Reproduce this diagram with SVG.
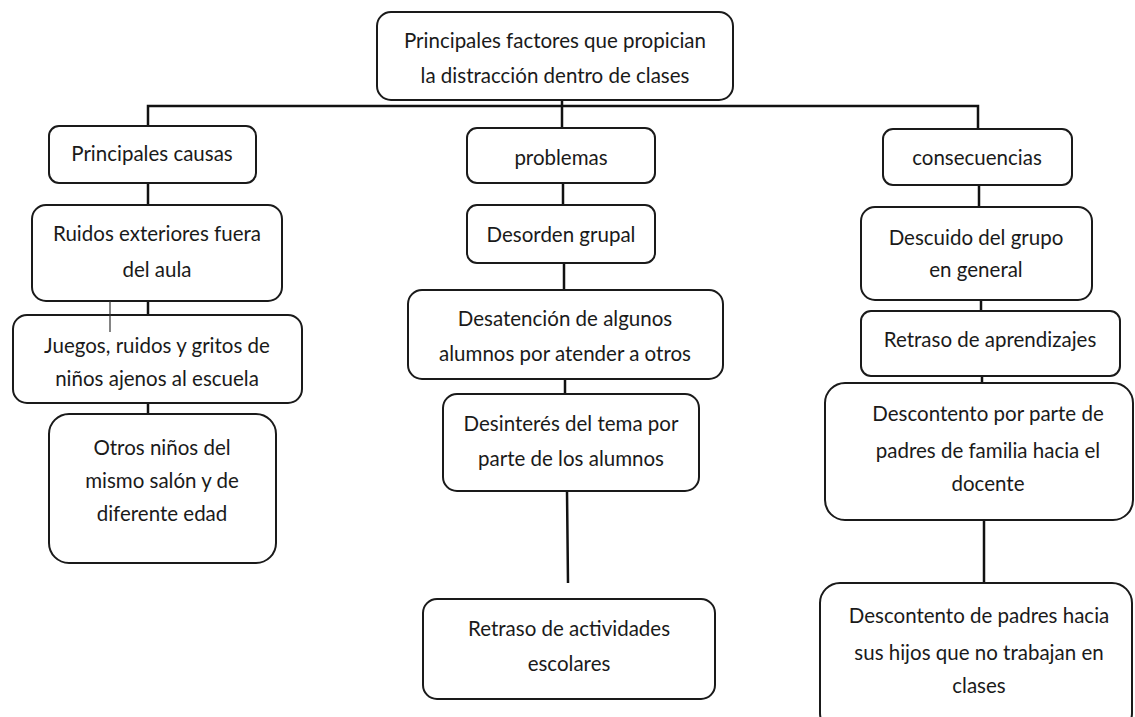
<svg xmlns="http://www.w3.org/2000/svg" width="1135" height="717" viewBox="0 0 1135 717">
<style>
.box{fill:#fff;stroke:#1a1a1a;stroke-width:2}
.t{font-family:Lato,"Liberation Sans",sans-serif;font-size:20.5px;fill:#1a1a1a;text-anchor:middle;dominant-baseline:central}
.c{stroke:#111;stroke-width:2.5;fill:none}
.thin{stroke:#333;stroke-width:1.2;fill:none}
</style>
<rect width="1135" height="717" fill="#fff"/>
<g id="connectors">
<path class="c" d="M562 100V128M148 125V106H978V129"/>
<path class="c" d="M148 183V205M148 301V315M148 403V414"/>
<path class="c" d="M563 183V205M564 263V290M565 379V394M567 491L568 583"/>
<path class="c" d="M979 185V207M981 300V311M982 376V383M984 520V583"/>
</g>
<g id="root"><rect class="box" x="377" y="12" width="356" height="88" rx="14"/>
<text class="t" x="555" y="40">Principales factores que propician</text>
<text class="t" x="555" y="75">la distracción dentro de clases</text></g>
<g id="causas"><rect class="box" x="49" y="126" width="207" height="57" rx="10"/>
<text class="t" x="152" y="153">Principales causas</text></g>
<g id="ruidos"><rect class="box" x="32" y="205" width="250" height="96" rx="14"/>
<text class="t" x="157" y="233">Ruidos exteriores fuera</text>
<text class="t" x="157" y="269">del aula</text></g>
<g id="juegos"><rect class="box" x="13" y="315" width="289" height="88" rx="14"/>
<text class="t" x="157" y="345">Juegos, ruidos y gritos de</text>
<text class="t" x="157" y="378">niños ajenos al escuela</text></g>
<g id="otros"><rect class="box" x="49" y="414" width="227" height="149" rx="20"/>
<text class="t" x="162" y="447">Otros niños del</text>
<text class="t" x="162" y="480">mismo salón y de</text>
<text class="t" x="162" y="513">diferente edad</text></g>
<g id="problemas"><rect class="box" x="467" y="128" width="188" height="55" rx="10"/>
<text class="t" x="561" y="157">problemas</text></g>
<g id="desorden"><rect class="box" x="467" y="205" width="188" height="58" rx="10"/>
<text class="t" x="561" y="234">Desorden grupal</text></g>
<g id="desatencion"><rect class="box" x="408" y="290" width="315" height="89" rx="14"/>
<text class="t" x="565" y="318">Desatención de algunos</text>
<text class="t" x="565" y="353">alumnos por atender a otros</text></g>
<g id="desinteres"><rect class="box" x="443" y="394" width="256" height="97" rx="14"/>
<text class="t" x="571" y="423">Desinterés del tema por</text>
<text class="t" x="571" y="458">parte de los alumnos</text></g>
<g id="retraso-act"><rect class="box" x="423" y="599" width="292" height="100" rx="14"/>
<text class="t" x="569" y="628">Retraso de actividades</text>
<text class="t" x="569" y="663">escolares</text></g>
<g id="consecuencias"><rect class="box" x="883" y="129" width="189" height="56" rx="10"/>
<text class="t" x="977" y="157">consecuencias</text></g>
<g id="descuido"><rect class="box" x="861" y="207" width="231" height="93" rx="14"/>
<text class="t" x="976" y="237">Descuido del grupo</text>
<text class="t" x="976" y="269">en general</text></g>
<g id="retraso-apr"><rect class="box" x="861" y="311" width="259" height="65" rx="10"/>
<text class="t" x="990" y="339">Retraso de aprendizajes</text></g>
<g id="descontento1"><rect class="box" x="825" y="383" width="308" height="137" rx="20"/>
<text class="t" x="988" y="413">Descontento por parte de</text>
<text class="t" x="988" y="450">padres de familia hacia el</text>
<text class="t" x="988" y="483">docente</text></g>
<g id="descontento2"><rect class="box" x="820" y="583" width="312" height="150" rx="20"/>
<text class="t" x="979" y="615">Descontento de padres hacia</text>
<text class="t" x="979" y="652">sus hijos que no trabajan en</text>
<text class="t" x="979" y="685">clases</text></g>
<g id="stray-line"><path class="thin" d="M110 301V332"/></g>
</svg>
